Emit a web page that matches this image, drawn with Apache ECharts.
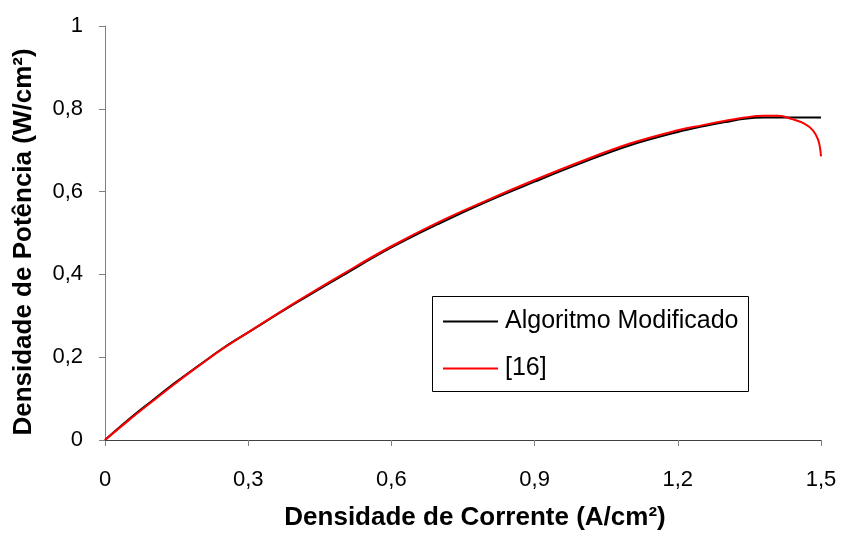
<!DOCTYPE html>
<html>
<head>
<meta charset="utf-8">
<script src="https://cdn.jsdelivr.net/npm/echarts@6/dist/echarts.min.js"></script>
<style>html,body{margin:0;padding:0;background:#fff}#c{width:844px;height:536px}</style>
</head>
<body>
<div id="c"></div>
<script>
var seriesNames = ['Algoritmo Modificado', '[16]'];
var xTicks = [0, 0.3, 0.6, 0.9, 1.2, 1.5];
var yTicks = [0, 0.2, 0.4, 0.6, 0.8, 1];

var xBlack = [0, 0.05, 0.1, 0.15, 0.2, 0.25, 0.3, 0.4, 0.5, 0.6, 0.7, 0.8, 0.9, 1.0, 1.1, 1.2, 1.25, 1.3, 1.34, 1.38, 1.42, 1.46, 1.5];
var yBlack = [0, 0.050, 0.096, 0.141, 0.183, 0.224, 0.260, 0.331, 0.399, 0.465, 0.523, 0.576, 0.624, 0.670, 0.712, 0.744, 0.757, 0.768, 0.776, 0.779, 0.779, 0.779, 0.779];

var xRed = [0, 0.05, 0.1, 0.15, 0.2, 0.25, 0.3, 0.4, 0.5, 0.6, 0.7, 0.8, 0.9, 1.0, 1.1, 1.2, 1.25, 1.3, 1.34, 1.38, 1.41, 1.44, 1.465, 1.483, 1.494, 1.498, 1.5];
var yRed = [0, 0.048, 0.094, 0.139, 0.182, 0.223, 0.260, 0.333, 0.402, 0.468, 0.527, 0.579, 0.628, 0.674, 0.716, 0.748, 0.760, 0.771, 0.779, 0.783, 0.783, 0.775, 0.764, 0.748, 0.725, 0.705, 0.685];

function pairs(xs, ys) { return xs.map(function (x, i) { return [x, ys[i]]; }); }
function fmt(v) { var r = Math.round(v * 10) / 10; return String(r).replace('.', ','); }

var FONT = "'Liberation Sans', Arial, sans-serif";
var chart = echarts.init(document.getElementById('c'), null, { renderer: 'canvas' });
chart.setOption({
  animation: false,
  backgroundColor: '#fff',
  grid: { left: 105, right: 23, top: 26, bottom: 90, containLabel: false },
  xAxis: {
    type: 'value', min: xTicks[0], max: xTicks[xTicks.length - 1], interval: 0.3,
    name: 'Densidade de Corrente (A/cm²)', nameLocation: 'middle', nameGap: 65,
    nameTextStyle: { fontFamily: FONT, fontWeight: 'bold', fontSize: 26, color: '#000', padding: [0, 0, 0, 24] },
    axisLine: { lineStyle: { color: '#404040', width: 1 } },
    axisTick: { show: true, inside: false, length: 6, lineStyle: { color: '#808080' } },
    axisLabel: { margin: 29, fontFamily: FONT, fontSize: 22, color: '#000', formatter: fmt },
    splitLine: { show: false }
  },
  yAxis: {
    type: 'value', min: yTicks[0], max: yTicks[yTicks.length - 1], interval: 0.2,
    name: 'Densidade de Potência (W/cm²)', nameLocation: 'middle', nameGap: 68,
    nameTextStyle: { fontFamily: FONT, fontWeight: 'bold', fontSize: 26, color: '#000', padding: [0, 18, 0, 0] },
    axisLine: { show: true, lineStyle: { color: '#808080', width: 1 } },
    axisTick: { show: true, inside: false, length: 6, lineStyle: { color: '#808080' } },
    axisLabel: { margin: 22, fontFamily: FONT, fontSize: 22, color: '#000', formatter: fmt },
    splitLine: { show: false }
  },
  legend: {
    orient: 'vertical', left: 443, top: 309, padding: 0, itemGap: 22,
    icon: 'rect', itemWidth: 55, itemHeight: 2,
    textStyle: { fontFamily: FONT, fontSize: 25, color: '#000', padding: [0, 0, 0, 2] },
    data: seriesNames
  },
  graphic: [{
    type: 'rect', left: 432, top: 296, z: 0,
    shape: { width: 316, height: 95 },
    style: { fill: '#fff', stroke: '#000', lineWidth: 1 }
  }],
  series: [
    { name: seriesNames[0], type: 'line', data: pairs(xBlack, yBlack), showSymbol: false, smooth: 0.4,
      lineStyle: { color: '#000', width: 2 }, itemStyle: { color: '#000' }, z: 2 },
    { name: seriesNames[1], type: 'line', data: pairs(xRed, yRed), showSymbol: false, smooth: 0.4,
      lineStyle: { color: '#ff0000', width: 2 }, itemStyle: { color: '#ff0000' }, z: 3 }
  ]
});
</script>
</body>
</html>
